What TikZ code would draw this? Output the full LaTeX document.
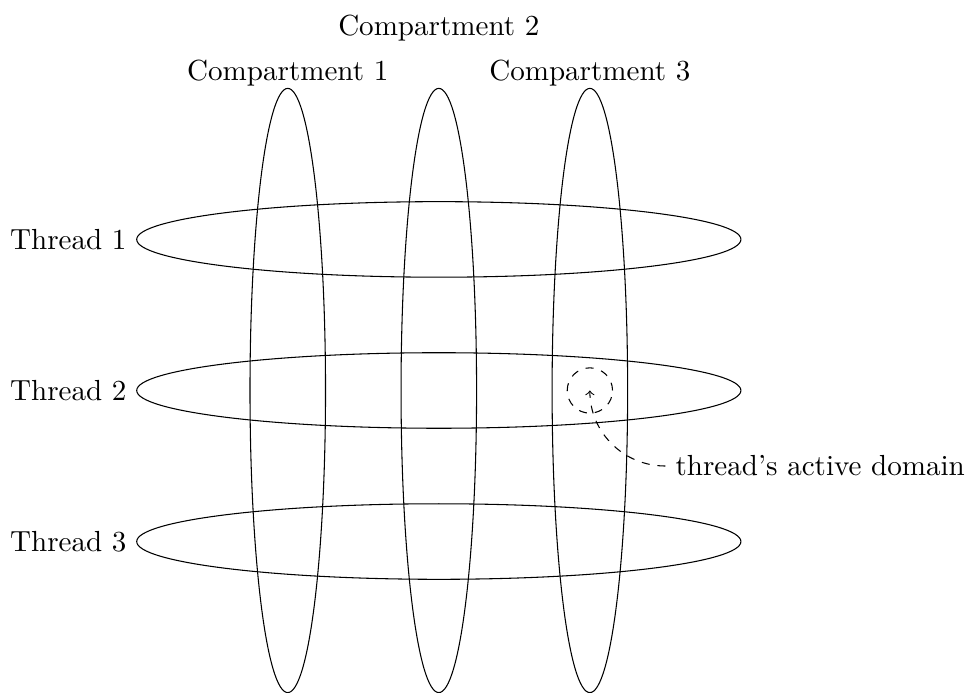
\documentclass[tikz,border=0pt,11pt]{standalone}
\begin{document}
\begin{tikzpicture}

	\useasboundingbox (-5.81,-4) rectangle (6.98,5.17);

	% Dimensions
	\def\gap{2}
	\def\longr{4}
	\def\shortr{0.5}

	% Compartments
	\draw (-\gap, 0) ellipse [x radius=\shortr, y radius=\longr];
	\draw (0, 0) ellipse [x radius=\shortr, y radius=\longr];
	\draw (\gap, 0) ellipse [x radius=\shortr, y radius=\longr];

	\node (comp1) at (-\gap, 4.2) {Compartment 1};
	\node (comp2) at (0, 4.8) {Compartment 2};
	\node (comp3) at (\gap, 4.2) {Compartment 3};

	% Threads
	\draw (0, \gap) ellipse [x radius=\longr, y radius=\shortr];
	\draw (0, 0) ellipse [x radius=\longr, y radius=\shortr];
	\draw (0, -\gap) ellipse [x radius=\longr, y radius=\shortr];

	\node[left] (thr1) at (-\longr, \gap) {Thread 1};
	\node[left] (thr2) at (-\longr, 0) {Thread 2};
	\node[left] (thr3) at (-\longr, -\gap) {Thread 3};

	% Active domain
	\coordinate (act) at (\gap, 0);
	\draw[dashed] (act) circle (0.3);
	\node[right] (dom) at (3, -1) {thread's active domain};
	\draw[dashed, ->] (dom.west) to[out=180, in=-90] (act);

\end{tikzpicture}
\end{document}
